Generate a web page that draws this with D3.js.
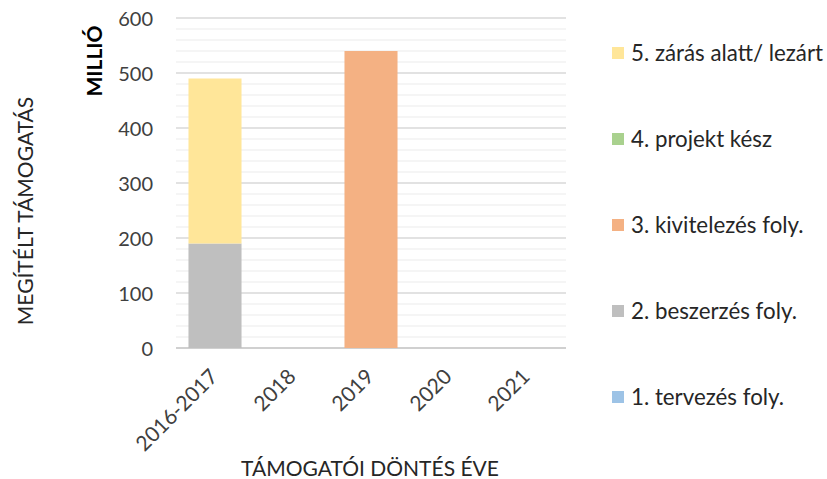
<!DOCTYPE html>
<html><head><meta charset="utf-8">
<script src="https://cdn.jsdelivr.net/npm/d3@7"></script>
<style>body{margin:0;background:#fff}svg{display:block}</style>
</head><body>
<svg id="c" width="827" height="479"></svg>
<script>
const categories = ["2016-2017","2018","2019","2020","2021"];
const seriesNames = ["1. tervezés foly.","2. beszerzés foly.","3. kivitelezés foly.","4. projekt kész","5. zárás alatt/ lezárt"];
const seriesColors = ["#9dc3e6","#bfbfbf","#f4b183","#a9d18e","#ffe699"];
const s1 = [0,0,0,0,0];
const s2 = [190,0,0,0,0];
const s3 = [0,0,540,0,0];
const s4 = [0,0,0,0,0];
const s5 = [300,0,0,0,0];
const yTicks = [0,100,200,300,400,500,600];
const yMinorTicks = d3.range(0,601,20);

(function(){
const font = "Lato, 'Open Sans', sans-serif";
const svg = d3.select("#c");
const pLeft = 176, pRight = 566, pTop = 18, pBottom = 348;
const x = d3.scaleBand().domain(categories).range([pLeft,pRight]).paddingInner(0.32).paddingOuter(0.16);
const y = d3.scaleLinear().domain([0,600]).range([pBottom,pTop]);

svg.append("g").selectAll("line").data(yMinorTicks.filter(v=>v%100!==0)).join("line")
  .attr("x1",pLeft).attr("x2",pRight).attr("y1",d=>y(d)).attr("y2",d=>y(d))
  .attr("stroke","#f2f2f2").attr("stroke-width",1.5);
svg.append("g").selectAll("line").data(yTicks).join("line")
  .attr("x1",pLeft).attr("x2",pRight).attr("y1",d=>y(d)).attr("y2",d=>y(d))
  .attr("stroke",d=>d===0?"#d0d0d0":"#d9d9d9").attr("stroke-width",d=>d===0?2:1.5);

const table = categories.map((c,i)=>({cat:c, s1:s1[i], s2:s2[i], s3:s3[i], s4:s4[i], s5:s5[i]}));
const keys = ["s1","s2","s3","s4","s5"];
const stack = d3.stack().keys(keys)(table);
svg.append("g").selectAll("g").data(stack).join("g").attr("fill",(d,i)=>seriesColors[i])
  .selectAll("rect").data(d=>d).join("rect")
  .attr("x",d=>x(d.data.cat)).attr("width",x.bandwidth())
  .attr("y",d=>y(d[1])).attr("height",d=>y(d[0])-y(d[1]));

const yAxis = d3.axisLeft(y).tickValues(yTicks).tickSize(0).tickPadding(0);
const ya = svg.append("g").attr("transform",`translate(${pLeft-23},0)`).call(yAxis);
ya.select(".domain").remove();
ya.selectAll("text").attr("font-family",font).attr("font-size",20).attr("fill","#404040").attr("dy","0.35em");

const xAxis = d3.axisBottom(x).tickSize(0).tickPadding(0);
const xa = svg.append("g").attr("transform",`translate(0,${pBottom})`).call(xAxis);
xa.select(".domain").remove();
xa.selectAll("text").attr("font-family",font).attr("font-size",21).attr("fill","#404040")
  .attr("text-anchor","end").attr("dy",null).attr("y",0)
  .attr("transform","translate(4,30) rotate(-45)");

svg.append("text").attr("x",370).attr("y",476).attr("text-anchor","middle")
  .attr("font-family",font).attr("font-size",21).attr("fill","#262626").text("TÁMOGATÓI DÖNTÉS ÉVE");
svg.append("text").attr("transform","translate(33,211) rotate(-90)").attr("text-anchor","middle")
  .attr("font-family",font).attr("font-size",21).attr("fill","#262626").text("MEGÍTÉLT TÁMOGATÁS");
svg.append("text").attr("transform","translate(102,61) rotate(-90)").attr("text-anchor","middle")
  .attr("font-family",font).attr("font-size",21).attr("font-weight","bold").attr("fill","#000").text("MILLIÓ");

const legendOrder = [4,3,2,1,0];
const lg = svg.append("g").selectAll("g").data(legendOrder).join("g")
  .attr("transform",(d,i)=>`translate(612,${53+i*86})`);
lg.append("rect").attr("x",0).attr("y",-6).attr("width",12).attr("height",12).attr("fill",d=>seriesColors[d]);
lg.append("text").attr("x",19).attr("y",0).attr("dy","0.35em").attr("font-family",font).attr("font-size",22.3)
  .attr("fill","#262626").text(d=>seriesNames[d]);
})();
</script>
</body></html>
